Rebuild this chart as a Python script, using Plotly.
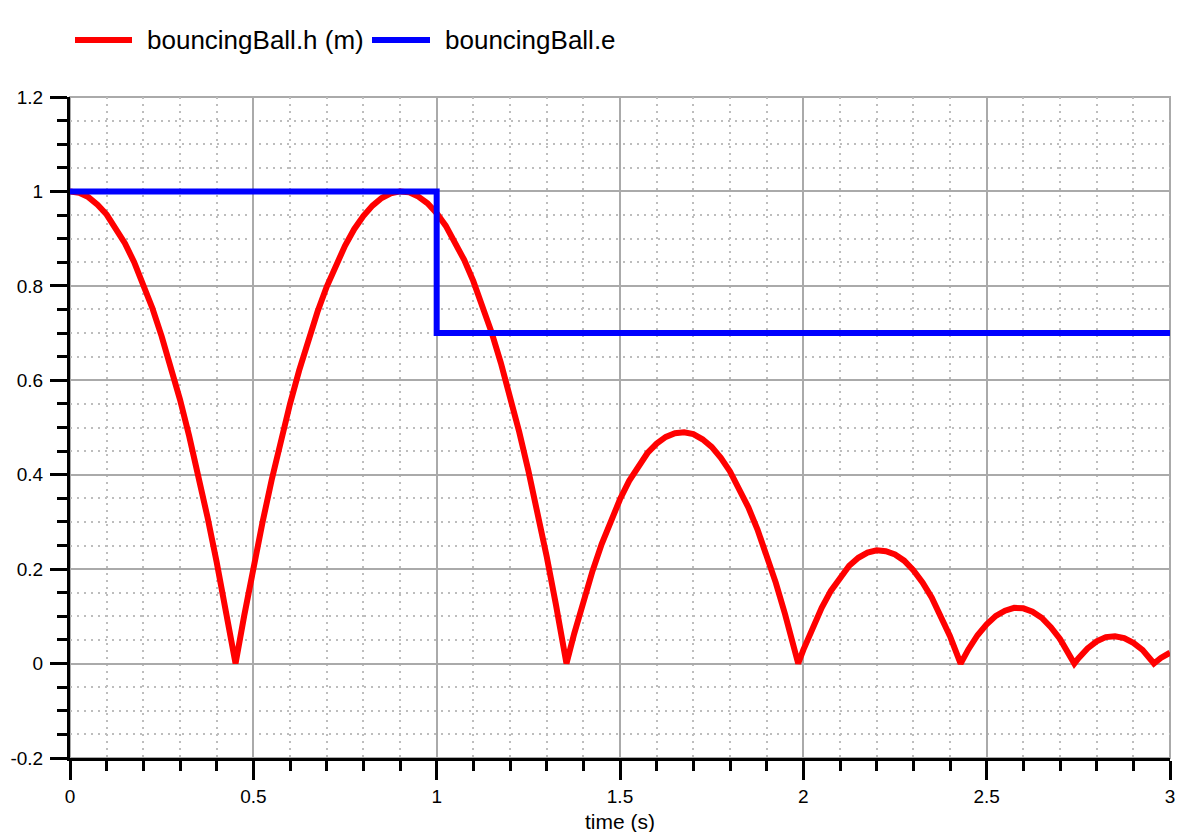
import plotly.graph_objects as go

# time samples (s) and ball height (m)
time_h = [0.0, 0.025, 0.05, 0.075, 0.1, 0.125, 0.15, 0.175, 0.2, 0.225, 0.25, 0.275,
          0.3, 0.325, 0.35, 0.375, 0.4, 0.425, 0.4515,
          0.475, 0.5, 0.525, 0.55, 0.575, 0.6, 0.625, 0.65, 0.675, 0.7, 0.725, 0.75,
          0.775, 0.8, 0.825, 0.85, 0.875, 0.9, 0.925, 0.95, 0.975, 1.0, 1.025, 1.05,
          1.075, 1.1, 1.125, 1.15, 1.175, 1.2, 1.225, 1.25, 1.275, 1.3, 1.325, 1.354,
          1.375, 1.4, 1.425, 1.45, 1.475, 1.5, 1.525, 1.55, 1.575, 1.6, 1.625, 1.65,
          1.675, 1.7, 1.725, 1.75, 1.775, 1.8, 1.825, 1.85, 1.875, 1.9, 1.925, 1.95,
          1.975, 1.986,
          2.0, 2.025, 2.05, 2.075, 2.1, 2.125, 2.15, 2.175, 2.2, 2.225, 2.25, 2.275,
          2.3, 2.325, 2.35, 2.375, 2.4, 2.425, 2.429,
          2.45, 2.475, 2.5, 2.525, 2.55, 2.575, 2.6, 2.625, 2.65, 2.675, 2.7, 2.725, 2.739,
          2.75, 2.775, 2.8, 2.825, 2.85, 2.875, 2.9, 2.925, 2.95, 2.956, 2.975, 3.0]
height = [1.0, 0.997, 0.988, 0.972, 0.951, 0.923, 0.890, 0.850, 0.804, 0.752, 0.693, 0.629,
          0.559, 0.482, 0.399, 0.310, 0.215, 0.114, 0.0,
          0.101, 0.203, 0.299, 0.389, 0.472, 0.550, 0.621, 0.686, 0.745, 0.798, 0.845, 0.885,
          0.920, 0.948, 0.970, 0.986, 0.996, 1.0, 0.998, 0.989, 0.975, 0.954, 0.927, 0.894,
          0.855, 0.810, 0.758, 0.701, 0.637, 0.567, 0.491, 0.409, 0.321, 0.227, 0.126, 0.0,
          0.063, 0.132, 0.196, 0.253, 0.304, 0.348, 0.387, 0.419, 0.446, 0.466, 0.480, 0.488,
          0.490, 0.486, 0.475, 0.459, 0.436, 0.407, 0.372, 0.331, 0.284, 0.231, 0.171, 0.105,
          0.034, 0.0,
          0.029, 0.077, 0.118, 0.154, 0.183, 0.207, 0.224, 0.235, 0.240, 0.238, 0.231, 0.218,
          0.198, 0.172, 0.140, 0.102, 0.058, 0.008, 0.0,
          0.030, 0.060, 0.083, 0.101, 0.112, 0.118, 0.117, 0.110, 0.097, 0.077, 0.052, 0.020, 0.0,
          0.011, 0.032, 0.047, 0.056, 0.058, 0.054, 0.044, 0.029, 0.006, 0.0, 0.012, 0.023]

# restitution coefficient
time_e = [0.0, 1.0, 3.0]
restitution = [1.0, 0.7, 0.7]

series_names = ["bouncingBall.h (m)", "bouncingBall.e"]
series_colors = ["#ff0000", "#0000ff"]
x_title = "time (s)"

y_tickvals = [-0.2, 0, 0.2, 0.4, 0.6, 0.8, 1, 1.2]
y_ticktext = ["-0.2", "0", "0.2", "0.4", "0.6", "0.8", "1", "1.2"]
x_tickvals = [0, 0.5, 1, 1.5, 2, 2.5, 3]
x_ticktext = ["0", "0.5", "1", "1.5", "2", "2.5", "3"]

FONT = "Liberation Sans, Arial, Helvetica, sans-serif"

# page is offset by the 8px body margin; plot area = page x 70..1170, y 97..758
PLOT_L, PLOT_T, PLOT_W, PLOT_H = 62, 89, 1100, 661
FIG_W, FIG_H = 1178, 824


def px(xp):  # page x pixel -> paper
    return (xp - 70) / PLOT_W


def py(yp):  # page y pixel -> paper
    return (758 - yp) / PLOT_H


fig = go.Figure()
fig.add_trace(go.Scatter(x=time_h, y=height, mode="lines", name=series_names[0],
                         line=dict(color=series_colors[0], width=6)))
fig.add_trace(go.Scatter(x=time_e, y=restitution, mode="lines", name=series_names[1],
                         line=dict(color=series_colors[1], width=6, shape="hv")))

axis_common = dict(
    automargin=False,
    showline=True, linecolor="black", linewidth=3,
    ticks="outside", tickcolor="black", tickwidth=3,
    showgrid=True, gridcolor="#aaaaaa", gridwidth=2,
    zeroline=False,
    tickfont=dict(family=FONT, size=19, color="black"),
)
minor_grid = dict(ticks="outside", ticklen=10, tickwidth=3, tickcolor="black",
                  showgrid=True, gridcolor="#bdbdbd", griddash="2px,5px", gridwidth=2)

fig.update_xaxes(
    range=[0, 3], tickvals=x_tickvals, ticktext=x_ticktext, ticklen=19,
    minor=dict(dtick=0.1, **minor_grid),
    **axis_common,
)
fig.update_yaxes(
    range=[-0.2, 1.2], tickvals=y_tickvals, ticktext=y_ticktext, ticklen=17,
    minor=dict(dtick=0.05, tick0=0, **minor_grid),
    ticklabelstandoff=3,
    **axis_common,
)

fig.add_shape(type="rect", xref="paper", yref="paper", x0=0, x1=1, y0=0, y1=1,
              line=dict(color="#aaaaaa", width=2), layer="below")

# legend drawn as line samples + text
legend_items = [(75, 132, 145), (372, 430, 443)]
for (lx0, lx1, tx), name, col in zip(legend_items, series_names, series_colors):
    fig.add_shape(type="line", xref="paper", yref="paper",
                  x0=px(lx0), x1=px(lx1), y0=py(40), y1=py(40),
                  line=dict(color=col, width=6))
    fig.add_annotation(xref="paper", yref="paper", x=px(tx), y=py(40),
                       xanchor="left", yanchor="middle", showarrow=False,
                       text=name, font=dict(family=FONT, size=26, color="black"))

fig.add_annotation(xref="paper", yref="paper", x=0.5, y=py(821),
                   xanchor="center", yanchor="middle", showarrow=False,
                   text=x_title, font=dict(family=FONT, size=21, color="black"))

fig.update_layout(
    width=FIG_W, height=FIG_H,
    margin=dict(l=PLOT_L, r=FIG_W - PLOT_L - PLOT_W, t=PLOT_T,
                b=FIG_H - PLOT_T - PLOT_H, autoexpand=False),
    plot_bgcolor="white", paper_bgcolor="white",
    font=dict(family=FONT, size=20, color="black"),
    showlegend=False,
)

fig.write_html("out.html")
